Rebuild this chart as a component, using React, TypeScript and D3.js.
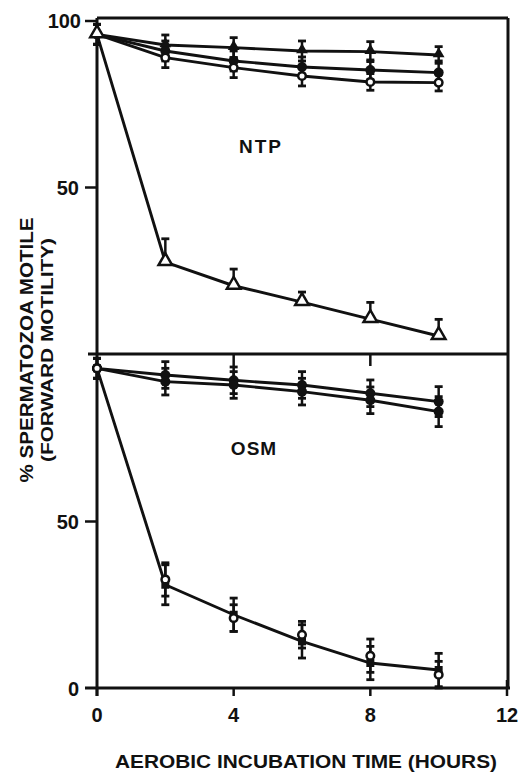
import React from 'react';
import * as d3 from 'd3';

// time points (hours)
const hours = [0, 2, 4, 6, 8, 10];
const xTicks = [0, 4, 8, 12];

// NTP panel
const ntpFilledTri = [96, 92.8, 92, 91, 90.8, 89.8];
const ntpFilledTriErr = [3, 3, 3, 3, 3, 2.5];
const ntpFilledCircle = [96, 91, 88, 86.2, 85.3, 84.5];
const ntpFilledCircleErr = [3, 3, 3, 3, 3, 3.5];
const ntpOpenCircle = [96, 89, 86, 83.5, 81.7, 81.5];
const ntpOpenCircleErr = [3, 3, 3, 3, 2.5, 2.5];
const ntpOpenTri = [96, 27.6, 20.5, 15.6, 10.5, 5.4];
const ntpOpenTriErr = [3, 7, 5, 3, 5, 5];
const ntpOpenTriErrDown = [3, 0, 0, 0, 0, 0];

// OSM panel
const osmCircleA = [96, 94, 92.4, 91, 88.5, 86];
const osmCircleAErr = [3, 4, 4, 4, 4, 4.5];
const osmCircleB = [96, 92, 91, 89, 86.4, 83];
const osmCircleBErr = [3, 4, 4, 4, 4, 4.5];
const osmOpenCircle = [96, 32.6, 21, 16, 9.7, 4];
const osmOpenCircleErr = [3, 5, 4, 4, 5, 4];
const osmSquare = [96, 31, 22, 14, 7.5, 5.4];
const osmSquareErr = [3, 6, 5, 5, 5, 5];

const x = d3.scaleLinear().domain([0, 12]).range([97, 507]);
const yTop = d3.scaleLinear().domain([0, 100]).range([354, 21]);
const yBot = d3.scaleLinear().domain([0, 100]).range([688, 355]);

const font = '"Liberation Sans", Arial, sans-serif';
const ink = '#111';

type Series = { values: number[]; err: number[]; errDown?: number[]; marker: string; line?: boolean };

const ntpSeries: Series[] = [
  { values: ntpFilledTri, err: ntpFilledTriErr, marker: 'triFilled', line: true },
  { values: ntpFilledCircle, err: ntpFilledCircleErr, marker: 'circleFilled', line: true },
  { values: ntpOpenCircle, err: ntpOpenCircleErr, marker: 'circleOpen', line: true },
  { values: ntpOpenTri, err: ntpOpenTriErr, errDown: ntpOpenTriErrDown, marker: 'triOpen', line: true },
];

const osmSeries: Series[] = [
  { values: osmCircleA, err: osmCircleAErr, marker: 'circleFilled', line: true },
  { values: osmCircleB, err: osmCircleBErr, marker: 'circleFilled', line: true },
  { values: osmSquare, err: osmSquareErr, marker: 'square', line: true },
  { values: osmOpenCircle, err: osmOpenCircleErr, marker: 'circleOpen', line: false },
];

const triPath = d3.symbol().type(d3.symbolTriangle).size(60)()!;
const triOpenPath = d3.symbol().type(d3.symbolTriangle).size(80)()!;
const squarePath = d3.symbol().type(d3.symbolSquare).size(64)()!;

const Marker = ({ kind, cx, cy }: { kind: string; cx: number; cy: number }) => {
  if (kind === 'circleFilled') return <circle cx={cx} cy={cy} r={5} fill={ink} />;
  if (kind === 'circleOpen')
    return <circle cx={cx} cy={cy} r={3.8} fill="#fff" stroke={ink} strokeWidth={2.5} />;
  if (kind === 'triFilled')
    return <path d={triPath} transform={`translate(${cx},${cy - 1})`} fill={ink} />;
  if (kind === 'triOpen')
    return (
      <path d={triOpenPath} transform={`translate(${cx},${cy - 1})`} fill="#fff" stroke={ink} strokeWidth={2.5} />
    );
  return <path d={squarePath} transform={`translate(${cx},${cy})`} fill={ink} />;
};

const Panel = ({ series, y }: { series: Series[]; y: d3.ScaleLinear<number, number> }) => {
  const line = d3
    .line<number>()
    .x((_, i) => x(hours[i]))
    .y((d) => y(d));
  return (
    <g>
      {series
        .filter((s) => s.line)
        .map((s, k) => (
          <path key={`l${k}`} d={line(s.values)!} fill="none" stroke={ink} strokeWidth={2.9} />
        ))}
      {series.map((s, k) =>
        s.values.map((v, i) => {
          const cx = x(hours[i]);
          const down = s.errDown ? s.errDown[i] : s.err[i];
          const y1 = y(v + s.err[i]);
          const y2 = y(Math.max(0, v - down));
          return (
            <g key={`e${k}-${i}`} stroke={ink}>
              <line x1={cx} x2={cx} y1={y1} y2={y2} strokeWidth={2.5} />
              <line x1={cx - 4} x2={cx + 4} y1={y1} y2={y1} strokeWidth={2.8} />
              {down > 0 && <line x1={cx - 4} x2={cx + 4} y1={y2} y2={y2} strokeWidth={2.8} />}
            </g>
          );
        })
      )}
      {series.map((s, k) =>
        s.values.map((v, i) => <Marker key={`m${k}-${i}`} kind={s.marker} cx={x(hours[i])} cy={y(v)} />)
      )}
    </g>
  );
};

export default function App() {
  const left = x(0);
  const right = 508;
  const top = 18;
  const mid = yTop(0);
  const bottom = yBot(0);
  return (
    <svg width={521} height={773} style={{ position: 'absolute', left: 0, top: 0, background: '#fff' }}>
      <rect width={521} height={773} fill="#fff" />
      {/* frame */}
      <g stroke={ink} strokeWidth={3} fill="none">
        <line x1={left} x2={right} y1={top} y2={top} />
        <line x1={right} x2={right} y1={top} y2={bottom} />
        <line x1={left} x2={left} y1={top} y2={bottom + 8} />
        <line x1={left - 9} x2={right} y1={mid} y2={mid} />
        <line x1={left - 12} x2={right + 2} y1={bottom} y2={bottom} />
      </g>
      {/* ticks */}
      <g stroke={ink} strokeWidth={2.5}>
        {[50, 100].map((t) => (
          <line key={`yt${t}`} x1={left - 12} x2={left} y1={yTop(t)} y2={yTop(t)} />
        ))}
        <line x1={left - 12} x2={left} y1={yBot(50)} y2={yBot(50)} />
        {xTicks.slice(1, 3).map((t) => (
          <line key={`mt${t}`} x1={x(t)} x2={x(t)} y1={mid} y2={mid + 12} />
        ))}
        {xTicks.map((t) => (
          <line key={`xt${t}`} x1={x(t)} x2={x(t)} y1={bottom - (t === 12 ? 8 : 0)} y2={bottom + 8} />
        ))}
      </g>
      <g fontFamily={font} fontWeight="bold" fontSize={20} fill={ink}>
        <text x={left - 16} y={yTop(100)} dy="0.35em" textAnchor="end">100</text>
        <text x={left - 18} y={yTop(50)} dy="0.38em" textAnchor="end">50</text>
        <text x={left - 18} y={yBot(50)} dy="0.38em" textAnchor="end">50</text>
        <text x={left - 18} y={yBot(0)} dy="0.38em" textAnchor="end">0</text>
        {xTicks.map((t) => (
          <text key={`xl${t}`} x={x(t)} y={722} textAnchor="middle">{t}</text>
        ))}
      </g>
      <Panel series={ntpSeries} y={yTop} />
      <Panel series={osmSeries} y={yBot} />
      <g fontFamily={font} fontWeight="bold" fill={ink}>
        <text x={261} y={153} fontSize={19} textAnchor="middle" letterSpacing={2}>NTP</text>
        <text x={254} y={455} fontSize={19} textAnchor="middle" letterSpacing={1}>OSM</text>
        <text x={306} y={768} fontSize={18} textAnchor="middle" textLength={382} lengthAdjust="spacingAndGlyphs">
          AEROBIC  INCUBATION TIME (HOURS)
        </text>
        <text transform="translate(33,350) rotate(-90)" fontSize={18} textAnchor="middle" textLength={265} lengthAdjust="spacingAndGlyphs">
          % SPERMATOZOA MOTILE
        </text>
        <text transform="translate(53,350) rotate(-90)" fontSize={16} textAnchor="middle" textLength={224} lengthAdjust="spacingAndGlyphs">
          (FORWARD MOTILITY)
        </text>
      </g>
    </svg>
  );
}
